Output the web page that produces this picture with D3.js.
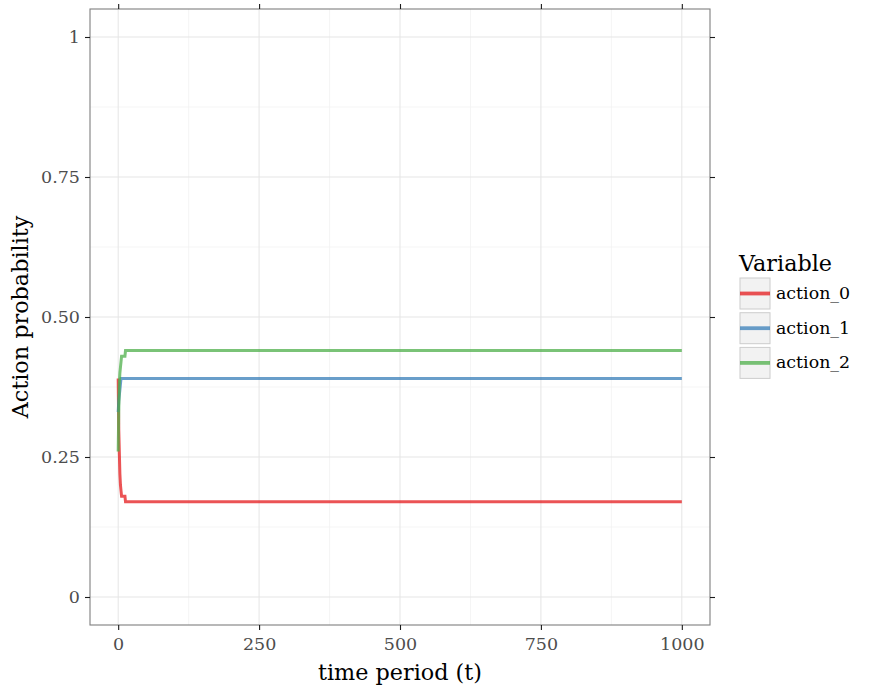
<!DOCTYPE html>
<html><head><meta charset="utf-8">
<script src="https://cdn.jsdelivr.net/npm/d3@7"></script>
<style>body{margin:0;background:#fff}</style>
</head><body>
<script>
const seriesNames = ["action_0", "action_1", "action_2"];
const timeSteps = [0, 1, 2, 3, 4, 5, 6, 7, 8, 9, 10, 11, 12, 13, 1000];
const action0 = [0.39, 0.30, 0.26, 0.22, 0.20, 0.19, 0.18, 0.18, 0.18, 0.18, 0.18, 0.18, 0.18, 0.17, 0.17];
const action1 = [0.33, 0.35, 0.36, 0.37, 0.38, 0.39, 0.39, 0.39, 0.39, 0.39, 0.39, 0.39, 0.39, 0.39, 0.39];
const action2 = [0.26, 0.33, 0.38, 0.40, 0.41, 0.42, 0.43, 0.43, 0.43, 0.43, 0.43, 0.43, 0.43, 0.44, 0.44];
const xTicks = [0, 250, 500, 750, 1000];
const yTicks = [0, 0.25, 0.5, 0.75, 1];
const yTickLabels = ["0", "0.25", "0.50", "0.75", "1"];
const colors = ["#e41a1c", "#377eb8", "#4daf4a"];

const W = 878, H = 694;
const svg = d3.select("body").append("svg").attr("width", W).attr("height", H);
const L = 90, R = 710, T = 9, B = 625;
const x = d3.scaleLinear().domain([-50, 1050]).range([L, R]);
const y = d3.scaleLinear().domain([-0.05, 1.05]).range([B, T]);
const font = "DejaVu Serif, serif";

// minor grid
const xMinor = [125, 375, 625, 875];
const yMinor = [0.125, 0.375, 0.625, 0.875];
svg.selectAll(".vmin").data(xMinor).join("line")
  .attr("x1", d => x(d)).attr("x2", d => x(d)).attr("y1", T).attr("y2", B)
  .attr("stroke", "#f2f2f2").attr("stroke-width", 0.8);
svg.selectAll(".hmin").data(yMinor).join("line")
  .attr("y1", d => y(d)).attr("y2", d => y(d)).attr("x1", L).attr("x2", R)
  .attr("stroke", "#f2f2f2").attr("stroke-width", 0.8);
// major grid
svg.selectAll(".vmaj").data(xTicks).join("line")
  .attr("x1", d => x(d)).attr("x2", d => x(d)).attr("y1", T).attr("y2", B)
  .attr("stroke", "#e5e5e5").attr("stroke-width", 1);
svg.selectAll(".hmaj").data(yTicks).join("line")
  .attr("y1", d => y(d)).attr("y2", d => y(d)).attr("x1", L).attr("x2", R)
  .attr("stroke", "#e5e5e5").attr("stroke-width", 1);

// lines
const allSeries = [action0, action1, action2];
const line = d3.line().x(d => x(d[0])).y(d => y(d[1]));
allSeries.forEach((vals, i) => {
  svg.append("path")
    .datum(timeSteps.map((t, k) => [t, vals[k]]))
    .attr("d", line).attr("fill", "none")
    .attr("stroke", colors[i]).attr("stroke-opacity", 0.75)
    .attr("stroke-width", 3);
});

// panel border
svg.append("rect").attr("x", L).attr("y", T).attr("width", R - L).attr("height", B - T)
  .attr("fill", "none").attr("stroke", "#7f7f7f").attr("stroke-width", 1.1);

// axes
const tickStyle = g => {
  g.select(".domain").remove();
  g.selectAll(".tick line").attr("stroke", "#1a1a1a").attr("stroke-width", 1.1);
  g.selectAll(".tick text").attr("fill", "#4d4d4d").attr("font-family", font).attr("font-size", 17.5);
};
svg.append("g").attr("transform", `translate(0,${B})`)
  .call(d3.axisBottom(x).tickValues(xTicks).tickSize(5).tickPadding(7.6).tickFormat(d3.format("d"))).call(tickStyle);
svg.append("g").attr("transform", `translate(0,${T})`)
  .call(d3.axisTop(x).tickValues(xTicks).tickSize(5).tickFormat("")).call(tickStyle);
svg.append("g").attr("transform", `translate(${L},0)`)
  .call(d3.axisLeft(y).tickValues(yTicks).tickSize(5).tickPadding(5).tickFormat((d, i) => yTickLabels[i])).call(tickStyle);
svg.append("g").attr("transform", `translate(${R},0)`)
  .call(d3.axisRight(y).tickValues(yTicks).tickSize(5).tickFormat("")).call(tickStyle);

// axis titles
svg.append("text").attr("x", (L + R) / 2).attr("y", 680).attr("text-anchor", "middle")
  .attr("font-family", font).attr("font-size", 22.3).attr("fill", "#000").text("time period (t)");
svg.append("text").attr("transform", `translate(28,${(T + B) / 2}) rotate(-90)`).attr("text-anchor", "middle")
  .attr("font-family", font).attr("font-size", 22.3).attr("fill", "#000").text("Action probability");

// legend
svg.append("text").attr("x", 739).attr("y", 271).attr("font-family", font).attr("font-size", 22.3)
  .attr("fill", "#000").text("Variable");
seriesNames.forEach((name, i) => {
  const ky = 278 + i * 34.7;
  svg.append("rect").attr("x", 740).attr("y", ky).attr("width", 30).attr("height", 31)
    .attr("fill", "#f2f2f2").attr("stroke", "#cccccc").attr("stroke-width", 1);
  svg.append("line").attr("x1", 740).attr("x2", 770).attr("y1", ky + 15.5).attr("y2", ky + 15.5)
    .attr("stroke", colors[i]).attr("stroke-opacity", 0.75).attr("stroke-width", 3.8);
  svg.append("text").attr("x", 776).attr("y", ky + 21).attr("font-family", font).attr("font-size", 17.4)
    .attr("fill", "#000").text(name);
});
</script>
</body></html>
